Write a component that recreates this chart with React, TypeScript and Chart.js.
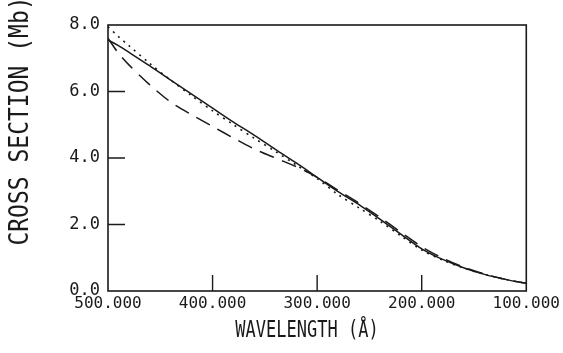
import React, { useEffect, useRef } from "react";
import { Chart, registerables } from "chart.js";

Chart.register(...registerables);

const wavelengths = [500, 490, 480, 460, 440, 420, 400, 380, 360, 340, 320, 300, 280, 260, 240, 220, 200, 180, 160, 140, 120, 100];
const solidSeries = [7.55, 7.38, 7.18, 6.77, 6.34, 5.92, 5.5, 5.08, 4.68, 4.26, 3.85, 3.42, 2.99, 2.6, 2.16, 1.71, 1.27, 0.95, 0.7, 0.5, 0.35, 0.23];
const dottedSeries = [7.95, 7.65, 7.38, 6.84, 6.34, 5.87, 5.42, 5.0, 4.59, 4.2, 3.79, 3.38, 2.9, 2.5, 2.1, 1.66, 1.23, 0.93, 0.69, 0.5, 0.35, 0.23];
const dashedSeries = [7.6, 7.15, 6.8, 6.2, 5.68, 5.3, 4.95, 4.6, 4.27, 4.0, 3.74, 3.42, 3.03, 2.64, 2.22, 1.77, 1.33, 0.99, 0.72, 0.51, 0.35, 0.23];
const xTicks = [500, 400, 300, 200, 100];
const yTicks = [0, 2, 4, 6, 8];
const xTitle = "WAVELENGTH (Å)";
const yTitle = "CROSS SECTION (Mb)";

const INK = "#1a1a1a";
const FONT = "'DejaVu Sans Mono', monospace";

const framePlugin = {
  id: "frame",
  afterDraw(chart: any) {
    const { ctx, chartArea, scales } = chart;
    ctx.save();
    ctx.strokeStyle = INK;
    ctx.lineWidth = 1.6;
    ctx.strokeRect(chartArea.left, chartArea.top, chartArea.right - chartArea.left, chartArea.bottom - chartArea.top);
    ctx.lineWidth = 1.4;
    ctx.beginPath();
    xTicks.forEach((v) => {
      const px = scales.x.getPixelForValue(v);
      if (Math.abs(px - chartArea.left) < 2 || Math.abs(px - chartArea.right) < 2) return;
      ctx.moveTo(px, chartArea.bottom);
      ctx.lineTo(px, chartArea.bottom - 16);
    });
    yTicks.forEach((v) => {
      const py = scales.y.getPixelForValue(v);
      if (Math.abs(py - chartArea.top) < 2 || Math.abs(py - chartArea.bottom) < 2) return;
      ctx.moveTo(chartArea.left, py);
      ctx.lineTo(chartArea.left + 17, py);
    });
    ctx.stroke();
    ctx.fillStyle = INK;
    ctx.textAlign = "center";
    ctx.textBaseline = "middle";
    ctx.save();
    ctx.translate(307, 331);
    ctx.scale(1, 1.3);
    ctx.font = `17px ${FONT}`;
    ctx.fillText(xTitle, 0, 0);
    ctx.restore();
    ctx.save();
    ctx.translate(21, 121);
    ctx.rotate(-Math.PI / 2);
    ctx.scale(1, 1.15);
    ctx.font = `23px ${FONT}`;
    ctx.fillText(yTitle, 0, 0);
    ctx.restore();
    ctx.restore();
  },
};

export default function App() {
  const ref = useRef<HTMLCanvasElement | null>(null);
  useEffect(() => {
    document.body.style.margin = "0";
    const canvas = ref.current!;
    const mk = (label: string, vals: number[], dash: number[], w: number) => ({
      label,
      data: wavelengths.map((x, i) => ({ x, y: vals[i] })),
      borderColor: INK,
      borderWidth: w,
      borderDash: dash,
      pointRadius: 0,
      tension: 0.3,
      fill: false,
    });
    const chart = new Chart(canvas, {
      type: "line",
      data: {
        datasets: [
          mk("solid", solidSeries, [], 1.5),
          mk("dotted", dottedSeries, [2, 5], 1.6),
          mk("dashed", dashedSeries, [15, 9], 1.5),
        ],
      },
      options: {
        responsive: false,
        animation: false,
        layout: { padding: { top: 25, right: 33, left: 0, bottom: 0 } },
        plugins: { legend: { display: false }, tooltip: { enabled: false } },
        scales: {
          x: {
            type: "linear",
            reverse: true,
            min: 100,
            max: 500,
            afterBuildTicks: (s: any) => {
              s.ticks = xTicks.map((v) => ({ value: v }));
            },
            afterFit: (s: any) => {
              s.height = 62;
            },
            grid: { display: false, drawTicks: false },
            border: { display: false },
            ticks: {
              padding: 3,
              color: INK,
              font: { family: FONT, size: 16 },
              maxRotation: 0,
              autoSkip: false,
              callback: (v: any) => Number(v).toFixed(3),
            },
          },
          y: {
            type: "linear",
            min: 0,
            max: 8,
            afterBuildTicks: (s: any) => {
              s.ticks = yTicks.map((v) => ({ value: v }));
            },
            afterFit: (s: any) => {
              s.width = 108;
            },
            grid: { display: false, drawTicks: false },
            border: { display: false },
            ticks: {
              padding: 8,
              color: INK,
              font: { family: FONT, size: 17 },
              callback: (v: any) => Number(v).toFixed(1),
            },
          },
        },
      },
      plugins: [framePlugin],
    } as any);
    return () => chart.destroy();
  }, []);
  return <canvas ref={ref} width={563} height={353} style={{ display: "block" }} />;
}
